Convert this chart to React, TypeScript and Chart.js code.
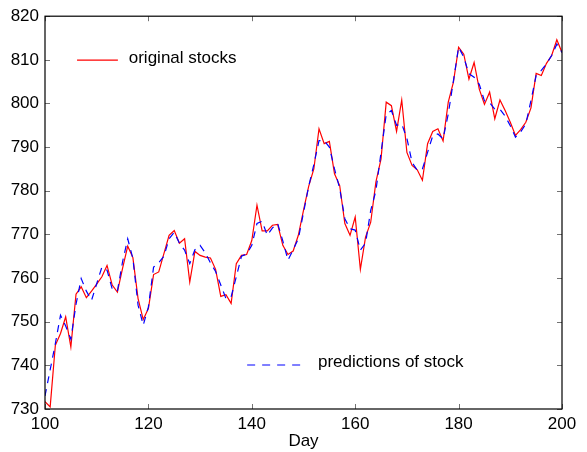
import React, { useEffect, useRef } from "react";
import { Chart, registerables } from "chart.js";

Chart.register(...registerables);

const days: number[] = Array.from({ length: 101 }, (_, i) => 100 + i);

const originalStocks: number[] = [
  731.7, 730.5, 744.6, 747.3, 751.1, 744.2, 756.3, 758.0, 755.5, 757.0,
  758.6, 760.3, 762.9, 758.4, 756.8, 762.2, 767.3, 764.7, 755.3, 750.5,
  753.0, 760.8, 761.4, 765.6, 769.8, 770.9, 768.0, 769.0, 759.1, 766.1,
  765.2, 764.8, 764.6, 762.0, 755.8, 756.2, 754.2, 763.3, 765.2, 765.4,
  768.6, 776.7, 770.8, 770.8, 772.1, 772.3, 767.5, 765.4, 766.2, 769.8,
  775.5, 781.0, 785.0, 794.2, 790.8, 791.3, 783.9, 781.2, 772.5, 769.8,
  774.0, 762.0, 769.4, 772.8, 782.0, 787.3, 800.3, 799.5, 793.6, 800.8,
  788.8, 785.8, 784.8, 782.4, 790.8, 793.6, 794.2, 791.4, 800.3, 804.9,
  812.9, 811.3, 805.6, 809.4, 803.3, 799.8, 802.6, 796.5, 800.8, 798.4,
  795.7, 792.7, 794.0, 795.7, 799.0, 806.9, 806.4, 809.2, 811.0, 814.6,
  811.7,
];

const predictions: number[] = [
  733.0, 739.0, 745.0, 751.5, 749.0, 746.0, 754.0, 759.9, 757.0, 754.9,
  758.7, 762.5, 761.8, 757.5, 757.0, 763.7, 769.0, 764.5, 753.8, 749.2,
  753.4, 762.5, 763.5, 765.0, 769.0, 770.5, 768.0, 766.4, 763.3, 766.5,
  767.5, 765.8, 763.5, 761.5, 758.4, 755.3, 755.7, 760.3, 765.0, 765.5,
  767.5, 772.5, 773.0, 769.8, 771.5, 772.5, 768.5, 764.1, 766.5, 769.0,
  775.0, 781.0, 786.0, 791.5, 791.5, 790.0, 785.0, 780.5, 773.6, 771.3,
  771.0, 766.4, 768.0, 775.5, 780.0, 788.8, 797.5, 798.4, 795.0, 795.3,
  792.0, 786.5, 784.7, 785.0, 788.8, 792.6, 793.0, 791.9, 797.6, 805.2,
  812.9, 810.6, 806.8, 806.0, 804.4, 800.6, 800.2, 798.7, 798.7, 797.1,
  794.9, 792.3, 793.5, 795.3, 800.7, 806.4, 807.6, 809.1, 811.0, 813.6,
  811.7,
];

const xTicks: number[] = [100, 120, 140, 160, 180, 200];
const yTicks: number[] = [730, 740, 750, 760, 770, 780, 790, 800, 810, 820];

const FONT = "'Liberation Sans', Arial, Helvetica, sans-serif";

const boxPlugin = {
  id: "matlabBox",
  afterDraw(chart: any) {
    const { ctx, chartArea } = chart;
    const { left, right, top, bottom } = chartArea;
    const xs = chart.scales.x;
    const ys = chart.scales.y;
    ctx.save();
    // inward ticks
    ctx.strokeStyle = "rgba(0,0,0,0.55)";
    ctx.lineWidth = 1;
    const tl = 5;
    xTicks.forEach((v) => {
      const px = Math.round(xs.getPixelForValue(v)) + 0.5;
      ctx.beginPath();
      ctx.moveTo(px, bottom);
      ctx.lineTo(px, bottom - tl);
      ctx.moveTo(px, top);
      ctx.lineTo(px, top + tl);
      ctx.stroke();
    });
    yTicks.forEach((v) => {
      const py = Math.round(ys.getPixelForValue(v)) + 0.5;
      ctx.beginPath();
      ctx.moveTo(left, py);
      ctx.lineTo(left + tl, py);
      ctx.moveTo(right, py);
      ctx.lineTo(right - tl, py);
      ctx.stroke();
    });
    // box
    ctx.strokeStyle = "#000";
    ctx.lineWidth = 1.2;
    ctx.strokeRect(left, top, right - left, bottom - top);

    // legends
    const w = right - left;
    const h = bottom - top;
    ctx.font = `17px ${FONT}`;
    ctx.textBaseline = "middle";
    ctx.fillStyle = "#000";
    // original stocks
    const ly1 = top + h * 0.112;
    ctx.strokeStyle = "#ff0000";
    ctx.lineWidth = 1.2;
    ctx.setLineDash([]);
    ctx.beginPath();
    ctx.moveTo(left + w * 0.062, ly1);
    ctx.lineTo(left + w * 0.141, ly1);
    ctx.stroke();
    ctx.fillText("original stocks", left + w * 0.162, ly1 - 2);
    // predictions
    const ly2 = top + h * 0.888;
    ctx.strokeStyle = "#0000ff";
    ctx.lineWidth = 1.2;
    ctx.setLineDash([8, 7]);
    ctx.beginPath();
    ctx.moveTo(left + w * 0.391, ly2);
    ctx.lineTo(left + w * 0.497, ly2);
    ctx.stroke();
    ctx.setLineDash([]);
    ctx.fillText("predictions of stock", left + w * 0.528, ly2 - 3);
    ctx.restore();
  },
};

export default function App() {
  const ref = useRef<HTMLCanvasElement | null>(null);

  useEffect(() => {
    if (!ref.current) return;
    const chart = new Chart(ref.current, {
      type: "line",
      data: {
        datasets: [
          {
            label: "predictions of stock",
            data: days.map((d, i) => ({ x: d, y: predictions[i] })),
            borderColor: "#0000ff",
            borderWidth: 1.2,
            borderDash: [7, 6],
            pointRadius: 0,
            tension: 0,
            fill: false,
          },
          {
            label: "original stocks",
            data: days.map((d, i) => ({ x: d, y: originalStocks[i] })),
            borderColor: "#ff0000",
            borderWidth: 1.2,
            pointRadius: 0,
            tension: 0,
            fill: false,
          },
        ],
      },
      options: {
        animation: false,
        responsive: false,
        devicePixelRatio: 1,
        layout: { padding: { top: 15.5, right: 25, left: 0, bottom: 0 } },
        plugins: {
          legend: { display: false },
          tooltip: { enabled: false },
        },
        scales: {
          x: {
            type: "linear",
            min: 100,
            max: 200,
            afterBuildTicks: (s: any) => {
              s.ticks = xTicks.map((v) => ({ value: v }));
            },
            afterFit: (s: any) => {
              s.height = 43;
            },
            grid: { display: false, drawTicks: false },
            border: { display: false },
            ticks: {
              color: "#000",
              padding: 5,
              maxRotation: 0,
              font: { family: FONT, size: 17 },
            },
            title: {
              display: true,
              text: "Day",
              color: "#000",
              padding: { top: 0, bottom: 0 },
              font: { family: FONT, size: 17 },
            },
          },
          y: {
            type: "linear",
            min: 730,
            max: 820,
            afterBuildTicks: (s: any) => {
              s.ticks = yTicks.map((v) => ({ value: v }));
            },
            afterFit: (s: any) => {
              s.width = 45;
            },
            grid: { display: false, drawTicks: false },
            border: { display: false },
            ticks: {
              color: "#000",
              padding: 6,
              font: { family: FONT, size: 17 },
            },
          },
        },
      },
      plugins: [boxPlugin],
    });
    return () => chart.destroy();
  }, []);

  return (
    <div
      style={{
        position: "fixed",
        left: 0,
        top: 0,
        width: 587,
        height: 452,
        background: "#fff",
      }}
    >
      <canvas ref={ref} width={587} height={452} style={{ width: 587, height: 452 }} />
    </div>
  );
}
